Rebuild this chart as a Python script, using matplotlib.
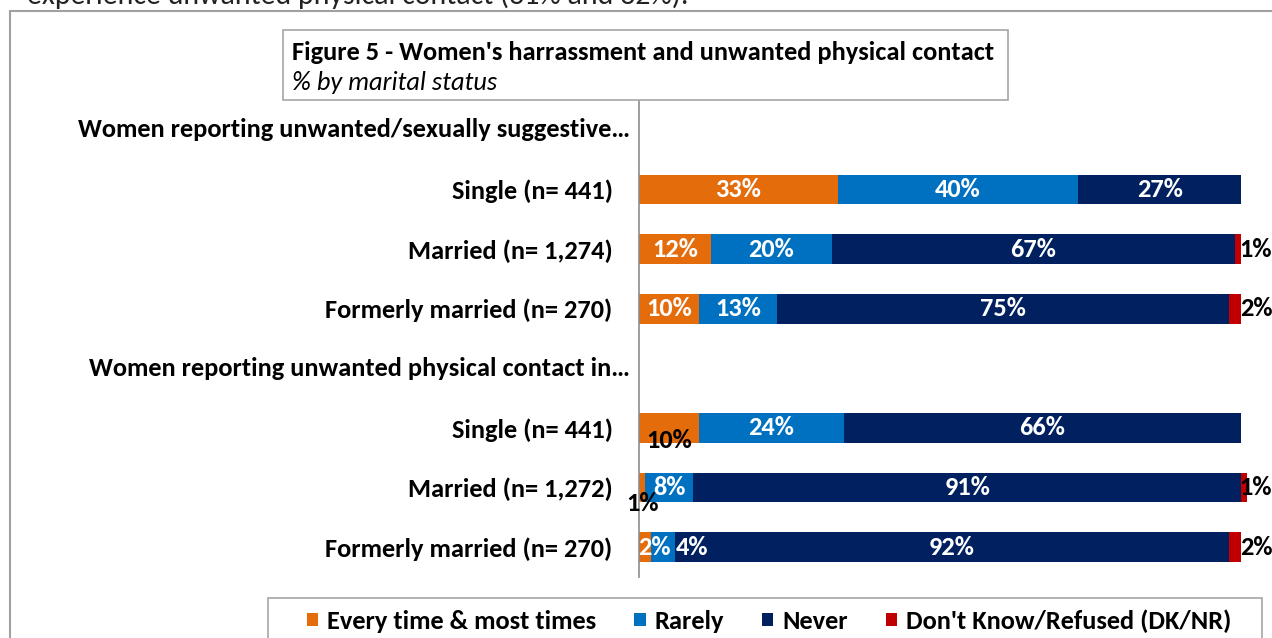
import matplotlib
matplotlib.use("Agg")
import matplotlib.pyplot as plt
from matplotlib import font_manager as fm
from matplotlib.patches import Rectangle
from matplotlib.transforms import offset_copy, blended_transform_factory

# ---- data -------------------------------------------------------------
rows = [
    "Women reporting unwanted/sexually suggestive…",
    "Single (n= 441)",
    "Married (n= 1,274)",
    "Formerly married (n= 270)",
    "Women reporting unwanted physical contact in…",
    "Single (n= 441)",
    "Married (n= 1,272)",
    "Formerly married (n= 270)",
]
header_rows = [0, 4]

series = ["Every time & most times", "Rarely", "Never", "Don't Know/Refused (DK/NR)"]
every_time = [None, 33, 12, 10, None, 10, 1, 2]
rarely     = [None, 40, 20, 13, None, 24, 8, 4]
never      = [None, 27, 67, 75, None, 66, 91, 92]
dk_nr      = [None, 0, 1, 2, None, 0, 1, 2]
values = [every_time, rarely, never, dk_nr]

title = "Figure 5 - Women's harrassment and unwanted physical contact"
subtitle = "% by marital status"
lead_text = "experience unwanted physical contact (31% and 32%)."

colors = ["#E46C0A", "#0070C0", "#002060", "#C00000"]

# ---- fonts ------------------------------------------------------------
available = {f.name for f in fm.fontManager.ttflist}
family = "DejaVu Sans"
for cand in ["Carlito", "Liberation Sans Narrow", "Roboto Condensed", "Open Sans", "Noto Sans"]:
    if cand in available:
        family = cand
        break
plt.rcParams["font.family"] = [family, "DejaVu Sans"]

FS = 19
W, H = 1272, 638


def fx(px):
    return px / W


def fy(py):
    return 1 - py / H


fig = plt.figure(figsize=(W / 100, H / 100), dpi=100)
fig.patch.set_facecolor("white")

# outer frame of the chart area
fig.add_artist(Rectangle((fx(10), fy(700)), fx(1300), (700 - 11) / H,
                         transform=fig.transFigure, fill=False,
                         edgecolor="#A0A0A0", linewidth=1.5))

# running text above the chart
fig.text(fx(27), fy(4), lead_text, fontsize=21.5, va="baseline", ha="left", color="#222222")

ax = fig.add_axes([fx(639), fy(577), 602 / W, 477 / H])
ax.set_xlim(0, 100)
ax.set_ylim(len(rows) - 0.5, -0.5)

bar_rows = [i for i in range(len(rows)) if i not in header_rows]
left = {i: 0.0 for i in bar_rows}
containers = []
for s, (name, vals, col) in enumerate(zip(series, values, colors)):
    widths = [vals[i] for i in bar_rows]
    lefts = [left[i] for i in bar_rows]
    bc = ax.barh(bar_rows, widths, left=lefts, height=0.5, color=col,
                 label=name, clip_on=False, edgecolor="none")
    containers.append(bc)
    for i in bar_rows:
        left[i] += vals[i]

# label placement tweaks for thin segments: (row, series) -> (dx px, dy px, color)
label_style = {
    (5, 0): (0, 13, "black"),
    (6, 0): (1, 16, "black"),
    (7, 0): (9, 0, "white"),
    (7, 1): (29, 0, "white"),
}
# DK/NR labels sit in a column just right of the plotting area
dk_trans = blended_transform_factory(ax.transAxes, ax.transData)

for s, vals in enumerate(values):
    for i in bar_rows:
        v = vals[i]
        if not v:
            continue
        start = sum(values[k][i] for k in range(s))
        if s == 3:
            ax.text(1 + 15 / 602, i, f"{v}%", transform=dk_trans, ha="center",
                    va="center", fontsize=FS, fontweight="bold", color="black",
                    clip_on=False, zorder=6)
            continue
        cx = start + v / 2
        dx, dy, col = label_style.get((i, s), (0, 0, "white"))
        tr = offset_copy(ax.transData, fig=fig, x=dx * 0.72, y=-dy * 0.72, units="points")
        ax.text(cx, i, f"{v}%", transform=tr, ha="center", va="center",
                fontsize=FS, fontweight="bold", color=col, clip_on=False)

# axes styling
for sp in ["top", "right", "bottom"]:
    ax.spines[sp].set_visible(False)
ax.spines["left"].set_color("#8C8C8C")
ax.spines["left"].set_linewidth(1.2)
ax.set_xticks([])
ax.set_yticks(bar_rows)
ax.set_yticklabels([rows[i] for i in bar_rows], fontsize=FS, fontweight="bold")
ax.tick_params(axis="y", length=0, pad=19)

for i in header_rows:
    ax.text(-9 / 602, i, rows[i], transform=ax.get_yaxis_transform(),
            ha="right", va="center", fontsize=FS, fontweight="bold")

# title box
fig.add_artist(Rectangle((fx(283), fy(100)), fx(1008 - 283), 70 / H,
                         transform=fig.transFigure, facecolor="white",
                         edgecolor="#A6A6A6", linewidth=1.2, zorder=3))
fig.text(fx(292), fy(53), title, fontsize=FS, fontweight="bold", va="center", ha="left", zorder=4)
fig.text(fx(292), fy(82), subtitle, fontsize=FS, fontstyle="italic", va="center", ha="left", zorder=4)

# legend box and entries
fig.add_artist(Rectangle((fx(268), fy(680)), fx(1262 - 268), (680 - 598) / H,
                         transform=fig.transFigure, facecolor="white",
                         edgecolor="#A6A6A6", linewidth=1.2, zorder=3))
leg = fig.legend(handles=containers, labels=series, loc="center left",
                 bbox_to_anchor=(fx(307), fy(621)), ncol=4, frameon=False,
                 prop={"weight": "bold", "size": FS},
                 handlelength=0.42, handleheight=0.42, handletextpad=0.34,
                 columnspacing=1.45, borderpad=0, borderaxespad=0)
leg.set_zorder(5)

fig.savefig("out.png", dpi=100, facecolor="white")
